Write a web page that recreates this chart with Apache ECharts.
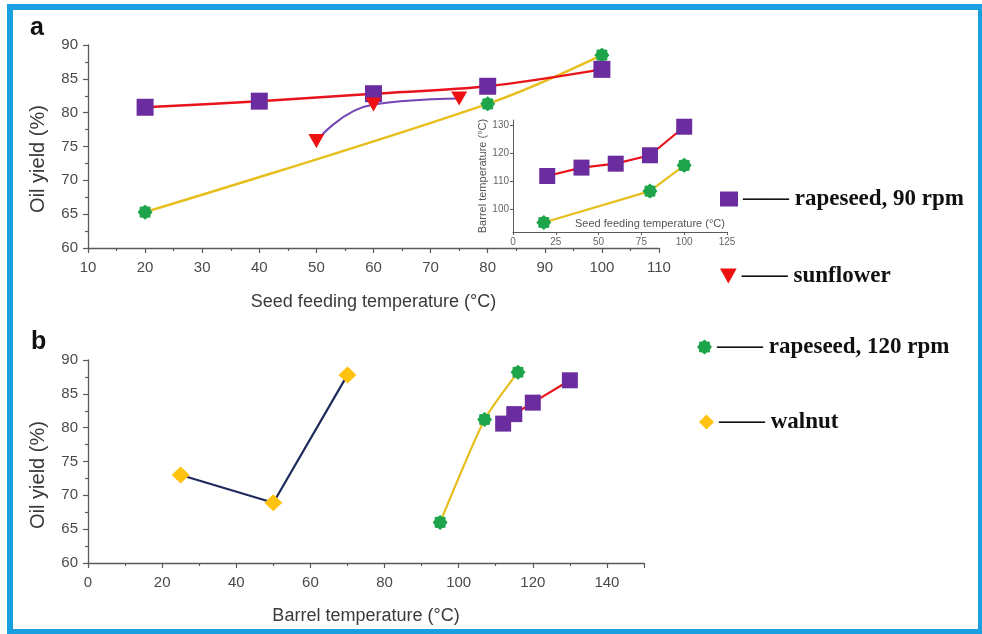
<!DOCTYPE html>
<html>
<head>
<meta charset="utf-8">
<script src="https://cdn.jsdelivr.net/npm/echarts@6/dist/echarts.min.js"></script>
<style>
html,body{margin:0;padding:0;background:#fff;}
#c{width:982px;height:634px;}
</style>
</head>
<body>
<div id="c"></div>
<script>
// ---------- data ----------
// Panel a: seed feeding temperature (°C) vs oil yield (%)
const aRape90X = [20, 40, 60, 80, 100];
const aRape90Y = [80.8, 81.7, 82.8, 83.9, 86.4];
const aSunX = [50, 60, 75];
const aSunY = [75.8, 81.2, 82.1];
const aRape120X = [20, 80, 100];
const aRape120Y = [65.3, 81.3, 88.5];
// Inset: seed feeding temperature vs barrel temperature
const inRape90X = [20, 40, 60, 80, 100];
const inRape90Y = [112, 115, 116.4, 119.4, 129.6];
const inRape120X = [18, 80, 100];
const inRape120Y = [95.4, 106.6, 115.8];
// Panel b: barrel temperature vs oil yield
const bWalnutX = [25, 50, 70];
const bWalnutY = [73, 68.9, 87.8];
const bRape120X = [95, 107, 116];
const bRape120Y = [66, 81.2, 88.2];
const bRape90X = [112, 115, 120, 130];
const bRape90Y = [80.6, 82, 83.7, 87];
// ticks
const insetYTicks = [100, 110, 120, 130];
const names = ['rapeseed, 90 rpm', 'sunflower', 'rapeseed, 120 rpm', 'walnut'];

function pairs(xs, ys){ return xs.map((x,i)=>[x, ys[i]]); }

// ---------- styles ----------
const PURPLE = '#6a2c9e', RED = '#e8141c', GREEN = '#1ea54b', GOLD = '#e6bf1e',
      WALNUT = '#ffc20e', NAVY = '#1d2a5c', SUNLINE = '#7445b5';
const TRI = 'path://M0,0 L10,0 L5,9 Z';
function flower(){
  let p = [];
  for (let i = 0; i < 16; i++) {
    const a = i * Math.PI / 8 - Math.PI / 2;
    const r = i % 2 ? 0.8 : 1;
    p.push((i ? 'L' : 'M') + (Math.cos(a) * r * 10 + 10).toFixed(2) + ',' + (Math.sin(a) * r * 10 + 10).toFixed(2));
  }
  return 'path://' + p.join(' ') + ' Z';
}
const FLOWER = flower();
const AX = '#5a5a5a';
const FONT = '"Liberation Sans", Arial, sans-serif';

function mainX(grid, min, max, interval, name, nameGap, hideMax){
  return {
    type:'value', gridIndex:grid, min, max, interval,
    name, nameLocation:'middle', nameGap,
    nameTextStyle:{fontFamily:FONT, fontSize:18, color:'#3a3a3a'},
    axisLine:{show:true, onZero:false, lineStyle:{color:AX, width:1.3}},
    axisTick:{show:true, length:5, inside:false, lineStyle:{color:AX, width:1.2}},
    minorTick:{show:true, splitNumber:2, length:3, lineStyle:{color:AX, width:1.2}},
    axisLabel:{fontFamily:FONT, fontSize:15, color:'#4a4a4a', margin:12, showMaxLabel: !hideMax},
    splitLine:{show:false}
  };
}
function mainY(grid){
  return {
    type:'value', gridIndex:grid, min:60, max:90, interval:5,
    axisLine:{show:true, onZero:false, lineStyle:{color:AX, width:1.3}},
    axisTick:{show:true, length:5, lineStyle:{color:AX, width:1.2}},
    minorTick:{show:true, splitNumber:2, length:3, lineStyle:{color:AX, width:1.2}},
    axisLabel:{fontFamily:FONT, fontSize:15, color:'#4a4a4a', margin:10},
    splitLine:{show:false}
  };
}

const chart = echarts.init(document.getElementById('c'), null, {renderer:'canvas'});

function legendAt(name, left, top, icon, w, h){
  return {
    data:[{name, icon}], left, top, orient:'vertical',
    itemWidth:w, itemHeight:h, selectedMode:false,
    formatter: n => '—— ' + n,
    textStyle:{fontFamily:'"Liberation Serif", "Times New Roman", serif', fontWeight:'bold', fontSize:23, color:'#111', lineHeight:24}
  };
}

const option = {
  animation:false,
  backgroundColor:'#ffffff',
  grid:[
    {left:88, top:45, width:571, height:203},
    {left:88, top:360, width:556, height:203},
    {left:513, top:120, width:214, height:112}
  ],
  xAxis:[
    mainX(0, 10, 110, 10, 'Seed feeding temperature (°C)', 45, false),
    mainX(1, 0, 150, 20, 'Barrel temperature (°C)', 44, true),
    {
      type:'value', gridIndex:2, min:0, max:125, interval:25,
      name:'Seed feeding temperature (°C)', nameLocation:'end', nameGap:-152,
      nameTextStyle:{fontFamily:FONT, fontSize:11, color:'#555', verticalAlign:'bottom', padding:[0,0,3,0]},
      axisLine:{show:true, onZero:false, lineStyle:{color:AX, width:1}},
      axisTick:{show:true, length:3, lineStyle:{color:AX}},
      axisLabel:{fontFamily:FONT, fontSize:10, color:'#666', margin:5},
      splitLine:{show:false}
    }
  ],
  yAxis:[
    mainY(0),
    mainY(1),
    {
      type:'value', gridIndex:2, min:92, max:132,
      name:'Barrel temperature (°C)', nameLocation:'middle', nameGap:22, nameRotate:90,
      nameTextStyle:{fontFamily:FONT, fontSize:11, color:'#555'},
      axisLine:{show:true, onZero:false, lineStyle:{color:AX, width:1}},
      axisTick:{show:true, length:3, customValues:insetYTicks, lineStyle:{color:AX}},
      axisLabel:{fontFamily:FONT, fontSize:10, color:'#666', margin:4, customValues:insetYTicks},
      splitLine:{show:false}
    }
  ],
  legend:[
    legendAt(names[0], 715, 182, 'rect', 18, 15),
    legendAt(names[1], 715, 259, TRI, 17, 15),
    legendAt(names[2], 692, 330, FLOWER, 15, 15),
    legendAt(names[3], 694, 405, 'diamond', 15, 15)
  ],
  series:[
    // panel a
    {name:names[2], type:'line', xAxisIndex:0, yAxisIndex:0, data:pairs(aRape120X, aRape120Y),
     smooth:0.35, symbol:FLOWER, symbolSize:15, itemStyle:{color:GREEN},
     lineStyle:{color:GOLD, width:2.5}, z:2},
    {name:names[0], type:'line', xAxisIndex:0, yAxisIndex:0, data:pairs(aRape90X, aRape90Y),
     smooth:0.3, symbol:'rect', symbolSize:17, itemStyle:{color:PURPLE},
     lineStyle:{color:RED, width:2.5}, z:3},
    {name:names[1], type:'line', xAxisIndex:0, yAxisIndex:0, data:pairs(aSunX, aSunY),
     smooth:0.5, symbol:TRI, symbolSize:[16,14], itemStyle:{color:'#ee1111'},
     lineStyle:{color:SUNLINE, width:2}, z:4},
    // inset
    {name:names[2], type:'line', xAxisIndex:2, yAxisIndex:2, data:pairs(inRape120X, inRape120Y),
     symbol:FLOWER, symbolSize:15, itemStyle:{color:GREEN}, lineStyle:{color:GOLD, width:2.2}},
    {name:names[0], type:'line', xAxisIndex:2, yAxisIndex:2, data:pairs(inRape90X, inRape90Y),
     symbol:'rect', symbolSize:16, itemStyle:{color:PURPLE}, lineStyle:{color:RED, width:2.2}},
    // panel b
    {name:names[3], type:'line', xAxisIndex:1, yAxisIndex:1, data:pairs(bWalnutX, bWalnutY),
     symbol:'diamond', symbolSize:[18,17], itemStyle:{color:WALNUT}, lineStyle:{color:NAVY, width:2.2}},
    {name:names[2], type:'line', xAxisIndex:1, yAxisIndex:1, data:pairs(bRape120X, bRape120Y),
     smooth:0.2, symbol:FLOWER, symbolSize:15, itemStyle:{color:GREEN}, lineStyle:{color:GOLD, width:2.2}},
    {name:names[0], type:'line', xAxisIndex:1, yAxisIndex:1, data:pairs(bRape90X, bRape90Y),
     symbol:'rect', symbolSize:16, itemStyle:{color:PURPLE}, lineStyle:{color:RED, width:2.2}}
  ],
  graphic:[
    {type:'text', left:30, top:16, style:{text:'a', font:'bold 25px "Liberation Sans", Arial', fill:'#111'}},
    {type:'text', left:31, top:330, style:{text:'b', font:'bold 25px "Liberation Sans", Arial', fill:'#111'}},
    {type:'text', x:38, y:159, rotation:Math.PI/2,
     style:{text:'Oil yield (%)', font:'20px "Liberation Sans", Arial', fill:'#3a3a3a', align:'center', verticalAlign:'middle'}},
    {type:'text', x:38, y:475, rotation:Math.PI/2,
     style:{text:'Oil yield (%)', font:'20px "Liberation Sans", Arial', fill:'#3a3a3a', align:'center', verticalAlign:'middle'}},
    {type:'rect', z:100, shape:{x:10, y:7, width:971, height:625},
     style:{fill:'none', stroke:'#1a9fe0', lineWidth:6}}
  ]
};
chart.setOption(option);
</script>
</body>
</html>
